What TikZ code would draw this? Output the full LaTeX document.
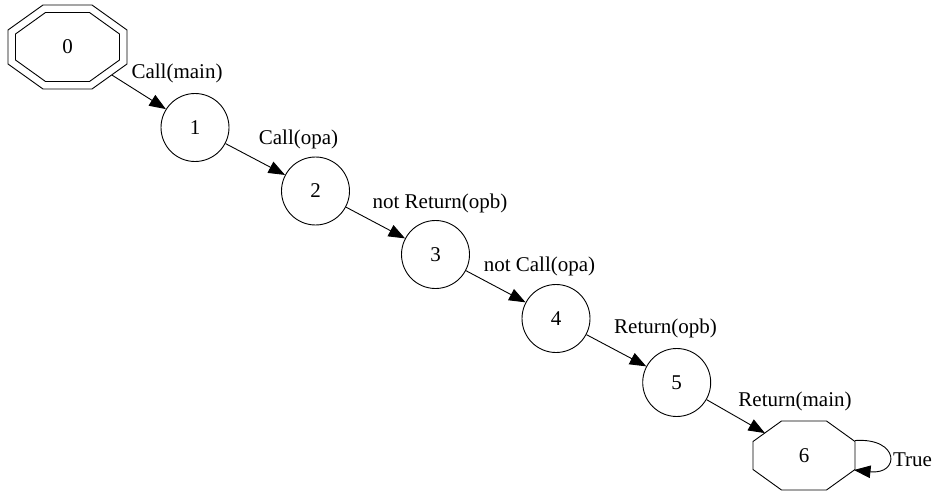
\documentclass[tikz,border=0pt]{standalone}
\usepackage{fontspec}
\setmainfont{Liberation Serif}
\usetikzlibrary{arrows.meta,shapes.geometric,calc}
\begin{document}
\begin{tikzpicture}[x=1pt,y=-1pt,
  every node/.style={font=\fontsize{21}{25}\selectfont},
  state/.style={circle,draw,line width=0.9pt,minimum size=68pt,inner sep=0pt},
  octnode/.style={ellipse,draw=none,inner sep=0pt},
  lbl/.style={inner sep=0pt},
  edge/.style={line width=0.9pt,-{Triangle[length=16.5pt,width=12.5pt]}},
  octline/.style={line width=0.9pt}]
\useasboundingbox (0,0) rectangle (937,492);
% nodes
\node[octnode,minimum width=119pt,minimum height=84pt] (n0) at (67.5,47) {0};
\node[state] (n1) at (195,127.5) {1};
\node[state] (n2) at (315.5,191) {2};
\node[state] (n3) at (435.5,254.5) {3};
\node[state] (n4) at (556,318.5) {4};
\node[state] (n5) at (676.7,382.5) {5};
\node[octnode,minimum width=102pt,minimum height=69pt] (n6) at (804,455.5) {6};
% octagon outlines
\draw[octline,shift={(n0.center)}] (-24.5,-42) -- (24.5,-42) -- (59.5,-17) -- (59.5,17) -- (24.5,42) -- (-24.5,42) -- (-59.5,17) -- (-59.5,-17) -- cycle;
\draw[octline,shift={(n0.center)}] (-22,-34.5) -- (22,-34.5) -- (52,-13) -- (52,13) -- (22,34.5) -- (-22,34.5) -- (-52,13) -- (-52,-13) -- cycle;
\draw[octline,shift={(n6.center)}] (-22.5,-34.5) -- (22.5,-34.5) -- (51,-14) -- (51,14) -- (22.5,34.5) -- (-22.5,34.5) -- (-51,14) -- (-51,-14) -- cycle;
% edges
\draw[edge] (n0) -- (n1);
\draw[edge] (n1) -- (n2);
\draw[edge] (n2) -- (n3);
\draw[edge] (n3) -- (n4);
\draw[edge] (n4) -- (n5);
\draw[edge] (n5) -- (n6);
\coordinate (l6a) at ($(n6.center)+(51,-15)$);
\coordinate (l6b) at ($(n6.center)+(50,14.5)$);
\draw[edge] (l6a) .. controls ($(l6a)+(45,-3)$) and ($(l6b)+(46,5)$) .. (l6b);
% labels
\node[lbl] (e01) at (177,73.5) {Call(main)};
\node[lbl] (e12) at (298.5,139.5) {Call(opa)};
\node[lbl] (e23) at (440,203.5) {not Return(opb)};
\node[lbl] (e34) at (539.5,266) {not Call(opa)};
\node[lbl] (e45) at (665.5,328.5) {Return(opb)};
\node[lbl] (e56) at (795,401.5) {Return(main)};
\node[lbl] (e66) at (912.5,459.5) {True};
\end{tikzpicture}
\end{document}
